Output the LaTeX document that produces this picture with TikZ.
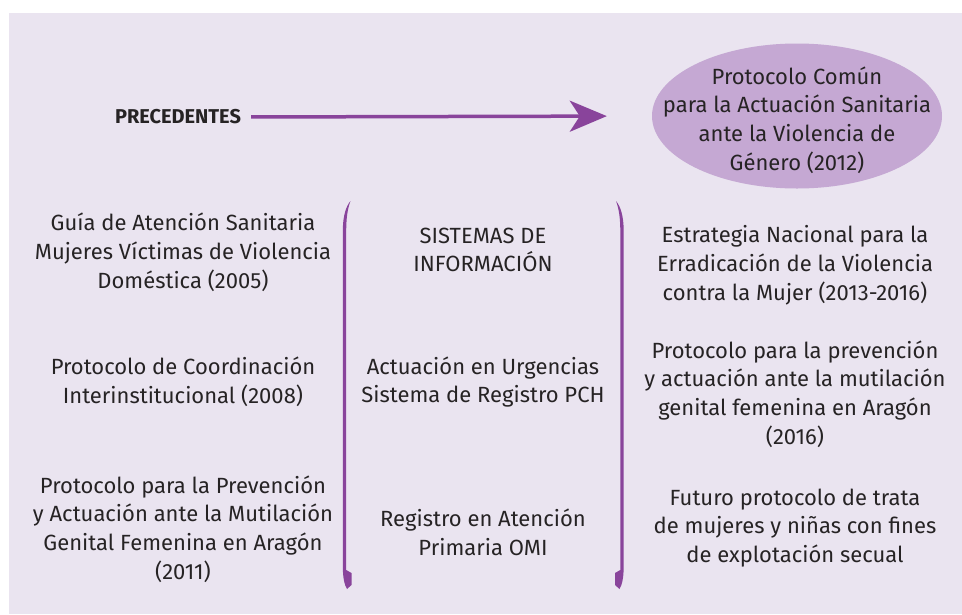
\documentclass[tikz,border=0pt]{standalone}
\usepackage{fontspec}
\setmainfont{Fira Sans}
\usetikzlibrary{shapes.geometric,arrows.meta}

\definecolor{fondo}{RGB}{234,228,240}
\definecolor{morado}{RGB}{137,68,155}
\definecolor{lila}{RGB}{197,168,211}
\definecolor{texto}{RGB}{38,35,36}

\tikzset{
  bloque/.style = {align=center, text=texto, inner sep=0pt,
                   font=\fontsize{22}{28.8}\selectfont},
  llave/.style  = {fill=morado, draw=none},
  flecha/.style = {draw=morado, line width=3.5pt,
                   -{Stealth[length=37pt,width=31pt,inset=10pt]}},
}

\begin{document}
\begin{tikzpicture}[x=1pt, y=-1pt]
            \useasboundingbox (0,0) rectangle (962,614);
            \fill [fondo] (9,13) rectangle (962,614);

            \node [bloque, font=\fontsize{20}{24}\bfseries] (prec) at (178,117) {PRECEDENTES};

            \node [ellipse, fill=lila, minimum width=290pt, minimum height=145pt, inner sep=0pt]
            (protocolo) at (797,116) {};
            \node [bloque, yshift=-4pt] (protocolo texto) at (protocolo)
            {Protocolo Común\\para la Actuación Sanitaria\\ante la Violencia de\\Género (2012)};

            \draw [flecha, shorten <=10pt, shorten >=45pt] (prec.east) -- (protocolo.west);

            % columna de la izquierda
            \node [bloque] (guia) at (183,252)
            {Guía de Atención Sanitaria\\Mujeres Víctimas de Violencia\\Doméstica (2005)};
            \node [bloque] (coord) at (183,382)
            {Protocolo de Coordinación\\Interinstitucional (2008)};
            \node [bloque] (mgf2011) at (183,529)
            {Protocolo para la Prevención\\y Actuación ante la Mutilación\\Genital Femenina en Aragón\\(2011)};

            % sistemas de informacion
            \node [bloque] (sistemas) at (483,250) {SISTEMAS DE\\INFORMACIÓN};
            \node [bloque] (urgencias) at (483,382)
            {Actuación en Urgencias\\Sistema de Registro PCH};
            \node [bloque] (omi) at (483,532) {Registro en Atención\\Primaria OMI};

            % columna de la derecha
            \node [bloque] (estrategia) at (795,265)
            {Estrategia Nacional para la\\Erradicación de la Violencia\\contra la Mujer (2013-2016)};
            \node [bloque] (mgf2016) at (795,394)
            {Protocolo para la prevención\\y actuación ante la mutilación\\genital femenina en Aragón\\(2016)};
            \node [bloque] (trata) at (795,528)
            {Futuro protocolo de trata\\de mujeres y niñas con fines\\de explotación secual};

            % llaves
            \begin{scope}[shift={(344.5,0)}]
            \fill [llave]
            (6,201) .. controls (2,206) and (-1.7,214) .. (-1.7,232) --
            (-1.7,566) .. controls (-1.7,578) and (0,585) .. (2.5,589) --
            (7,585) -- (7,573) -- (1.7,570) --
            (1.7,232) .. controls (1.7,218) and (3,209) .. (6,201) -- cycle;
            \end{scope}
            \begin{scope}[shift={(622,0)}, xscale=-1]
            \fill [llave]
            (6,201) .. controls (2,206) and (-1.7,214) .. (-1.7,232) --
            (-1.7,566) .. controls (-1.7,578) and (0,585) .. (2.5,589) --
            (7,585) -- (7,573) -- (1.7,570) --
            (1.7,232) .. controls (1.7,218) and (3,209) .. (6,201) -- cycle;
            \end{scope}
        \end{tikzpicture}
\end{document}
